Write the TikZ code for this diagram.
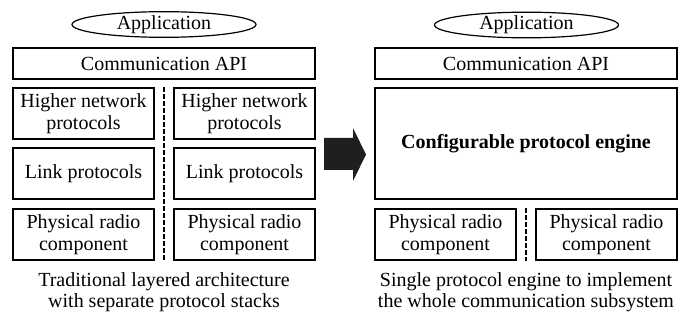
\documentclass[tikz,border=0pt]{standalone}
\usepackage{fontspec}
\setmainfont{Liberation Serif}
\usetikzlibrary{shapes, positioning}

\begin{document}
\begin{tikzpicture}[
  x=0.5pt, y=-0.5pt,
  layer/.style={draw, line width=0.6pt, align=center, inner sep=0pt, font=\fontsize{10}{11}\selectfont},
  halfbox/.style={layer, minimum width=70.5pt, minimum height=25.5pt},
  widebox/.style={layer, minimum width=151pt, minimum height=15.5pt},
  appoval/.style={draw, ellipse, line width=0.6pt, inner sep=0pt, minimum width=92pt, minimum height=12pt, font=\fontsize{10}{11}\selectfont},
  splitline/.style={line width=1.2pt, dash pattern=on 2.5pt off 1pt},
  caption/.style={align=center, font=\fontsize{10}{10.5}\selectfont}
]
  \useasboundingbox (0,0) rectangle (689,320);

  % Traditional stacks
  \node[appoval] (appL) at (164,24.5) {Application};
  \node[widebox] (apiL) at (164,63.5) {Communication API};
  \node[halfbox] (netA) at (83.5,113.5) {Higher network\\protocols};
  \node[halfbox] (netB) at (244.5,113.5) {Higher network\\protocols};
  \node[halfbox] (linkA) at (83.5,173.5) {Link protocols};
  \node[halfbox] (linkB) at (244.5,173.5) {Link protocols};
  \node[halfbox] (physA) at (83.5,234.5) {Physical radio\\component};
  \node[halfbox] (physB) at (244.5,234.5) {Physical radio\\component};
  \draw[splitline] (netA.north -| apiL.south) -- (physA.south -| apiL.south);
  \node[caption] (capL) at (164,292) {Traditional layered architecture\\with separate protocol stacks};

  % Block arrow
  \fill[black!88] (324,138) -- (353,138) -- (353,128) -- (366,154.5)
    -- (353,181) -- (353,170) -- (324,170) -- cycle;

  % Single engine
  \node[appoval] (appR) at (526.5,25) {Application};
  \node[widebox] (apiR) at (526,63.5) {Communication API};
  \node[widebox, minimum height=55.5pt, font=\fontsize{10}{11}\selectfont\bfseries] (engine) at (526,143.5) {Configurable protocol engine};
  \node[halfbox] (physC) at (445.5,234.5) {Physical radio\\component};
  \node[halfbox] (physD) at (606.5,234.5) {Physical radio\\component};
  \draw[splitline] (physC.north -| engine.south) -- (physC.south -| engine.south);
  \node[caption] (capR) at (526,292) {Single protocol engine to implement\\the whole communication subsystem};
\end{tikzpicture}
\end{document}
